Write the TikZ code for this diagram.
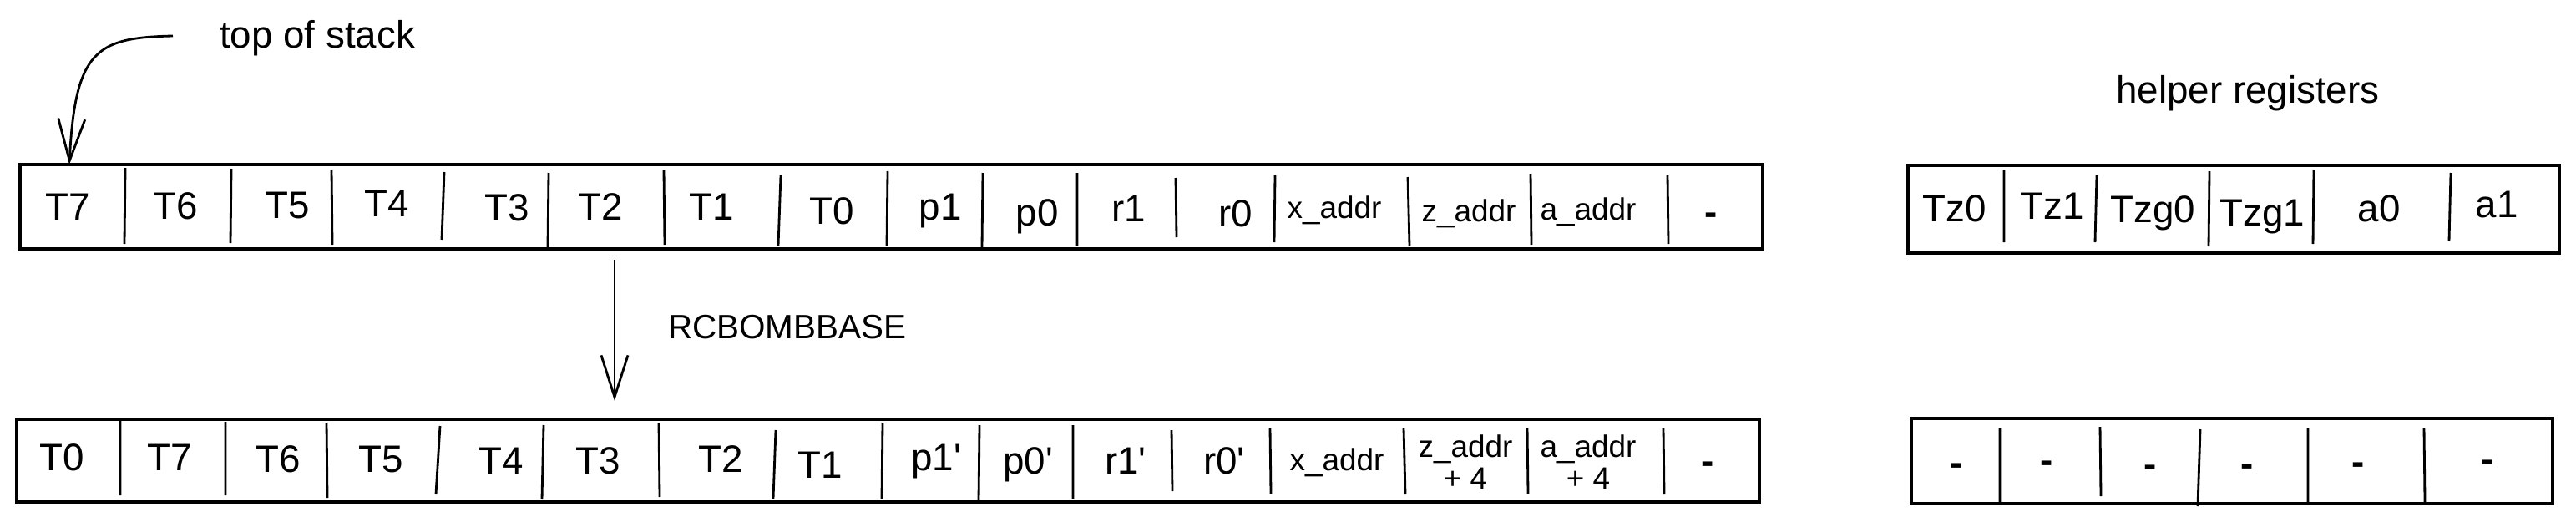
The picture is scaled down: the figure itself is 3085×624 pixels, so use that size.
\documentclass[tikz,border=0pt]{standalone}
\usepackage{fontspec}
\setmainfont{Liberation Sans}
\usetikzlibrary{arrows.meta}

\tikzset{
  frame/.style={very thick},
  reg/.style={anchor=base, font=\fontsize{13}{15}\selectfont},
  addr/.style={anchor=base, font=\fontsize{10.5}{12}\selectfont},
  addrtwo/.style={align=center, font=\fontsize{10.5}{11}\selectfont},
  freereg/.style={font=\fontsize{13}{15}\selectfont\bfseries},
  note/.style={anchor=base west, font=\fontsize{13}{15}\selectfont},
  hand/.style={-{Straight Barb[length=5mm,width=3.2mm]}},
}

\begin{document}
\begin{tikzpicture}[thick, x=0.01cm, y=-0.01cm]
  \useasboundingbox (0,0) rectangle (3085,624);

  % top of stack pointer
  \node[note] (tos) at (250,57) {top of stack};
  \coordinate (tos-tail) at (207,43);
  \coordinate (tos-head) at (83,197);
  \draw[hand] (tos-tail) .. controls (115,45) and (90,60) .. (tos-head);

  % stack before
  \draw[frame] (24,197) rectangle (2111,298);
  \draw (150,201) -- (149,292) (277,202) -- (276,291) (397,203) -- (398,293)
        (532,206) -- (529,287) (657,207) -- (656,296) (795,204) -- (796,293)
        (935,210) -- (932,294) (1063,205) -- (1062,294) (1177,207) -- (1176,296)
        (1290,207) -- (1290,294) (1408,213) -- (1409,284) (1527,210) -- (1526,290)
        (1686,212) -- (1688,295) (1833,208) -- (1834,293) (1997,210) -- (1998,292);
  \node[reg] (o-t7) at (81,263) {T7};
  \node[reg] (o-t6) at (210,262) {T6};
  \node[reg] (o-t5) at (344,261) {T5};
  \node[reg] (o-t4) at (463,259) {T4};
  \node[reg] (o-t3) at (607,264) {T3};
  \node[reg] (o-t2) at (719,263) {T2};
  \node[reg] (o-t1) at (852,263) {T1};
  \node[reg] (o-t0) at (996,268) {T0};
  \node[reg] (o-p1) at (1126,263) {p1};
  \node[reg] (o-p0) at (1242,270) {p0};
  \node[reg] (o-r1) at (1352,265) {r1};
  \node[reg] (o-r0) at (1480,271) {r0};
  \node[addr] (o-xa) at (1598,261) {x\_addr};
  \node[addr] (o-za) at (1759,265) {z\_addr};
  \node[addr] (o-aa) at (1902,263) {a\_addr};
  \node[freereg] (o-nil) at (2049,262) {-};

  % helper registers before
  \node[note, anchor=base] (helper) at (2692,123) {helper registers};
  \draw[frame] (2285,198) rectangle (3065,303);
  \draw (2400,203) -- (2400,290) (2511,210) -- (2509,290) (2646,205) -- (2645,295)
        (2771,203) -- (2770,292) (2935,207) -- (2933,288);
  \node[reg] (h-tz0) at (2341,265) {Tz0};
  \node[reg] (h-tz1) at (2458,262) {Tz1};
  \node[reg] (h-tzg0) at (2578,266) {Tzg0};
  \node[reg] (h-tzg1) at (2709,270) {Tzg1};
  \node[reg] (h-a0) at (2849,265) {a0};
  \node[reg] (h-a1) at (2990,260) {a1};

  % rotation
  \coordinate (rot-tail) at (736,311);
  \coordinate (rot-head) at (736,480);
  \draw[hand] (rot-tail) -- (rot-head);
  \node[note, font=\fontsize{11.5}{13}\selectfont] (rcb) at (787,405) {RCBOMBBASE};

  % stack after
  \draw[frame] (20,502) rectangle (2107,601);
  \draw (144,504) -- (144,593) (270,505) -- (270,593) (391,506) -- (392,596)
        (527,510) -- (522,592) (651,509) -- (649,598) (789,506) -- (790,595)
        (929,515) -- (926,597) (1057,506) -- (1056,597) (1173,509) -- (1172,600)
        (1285,509) -- (1285,597) (1403,515) -- (1404,588) (1521,513) -- (1522,591)
        (1681,513) -- (1683,592) (1829,512) -- (1830,591) (1992,513) -- (1993,592);
  \node[reg] (n-t0) at (74,563) {T0};
  \node[reg] (n-t7) at (203,563) {T7};
  \node[reg] (n-t6) at (333,565) {T6};
  \node[reg] (n-t5) at (456,565) {T5};
  \node[reg] (n-t4) at (600,567) {T4};
  \node[reg] (n-t3) at (716,567) {T3};
  \node[reg] (n-t2) at (863,565) {T2};
  \node[reg] (n-t1) at (982,572) {T1};
  \node[reg] (n-p1) at (1121,563) {p1\textquotesingle};
  \node[reg] (n-p0) at (1231,567) {p0\textquotesingle};
  \node[reg] (n-r1) at (1348,567) {r1\textquotesingle};
  \node[reg] (n-r0) at (1466,567) {r0\textquotesingle};
  \node[addr] (n-xa) at (1601,563) {x\_addr};
  \node[addrtwo] (n-za) at (1755,553) {z\_addr\\+ 4};
  \node[addrtwo] (n-aa) at (1902,553) {a\_addr\\+ 4};
  \node[freereg] (n-nil) at (2045,560) {-};

  % helper registers after
  \draw[frame] (2289,501) rectangle (3057,603);
  \draw (2395,513) -- (2395,602) (2515,511) -- (2516,594) (2635,514) -- (2632,606)
        (2764,513) -- (2764,601) (2903,513) -- (2904,601);
  \node[freereg] (h-nil1) at (2343,562) {-};
  \node[freereg] (h-nil2) at (2451,559) {-};
  \node[freereg] (h-nil3) at (2575,564) {-};
  \node[freereg] (h-nil4) at (2691,563) {-};
  \node[freereg] (h-nil5) at (2824,561) {-};
  \node[freereg] (h-nil6) at (2979,558) {-};
\end{tikzpicture}
\end{document}
